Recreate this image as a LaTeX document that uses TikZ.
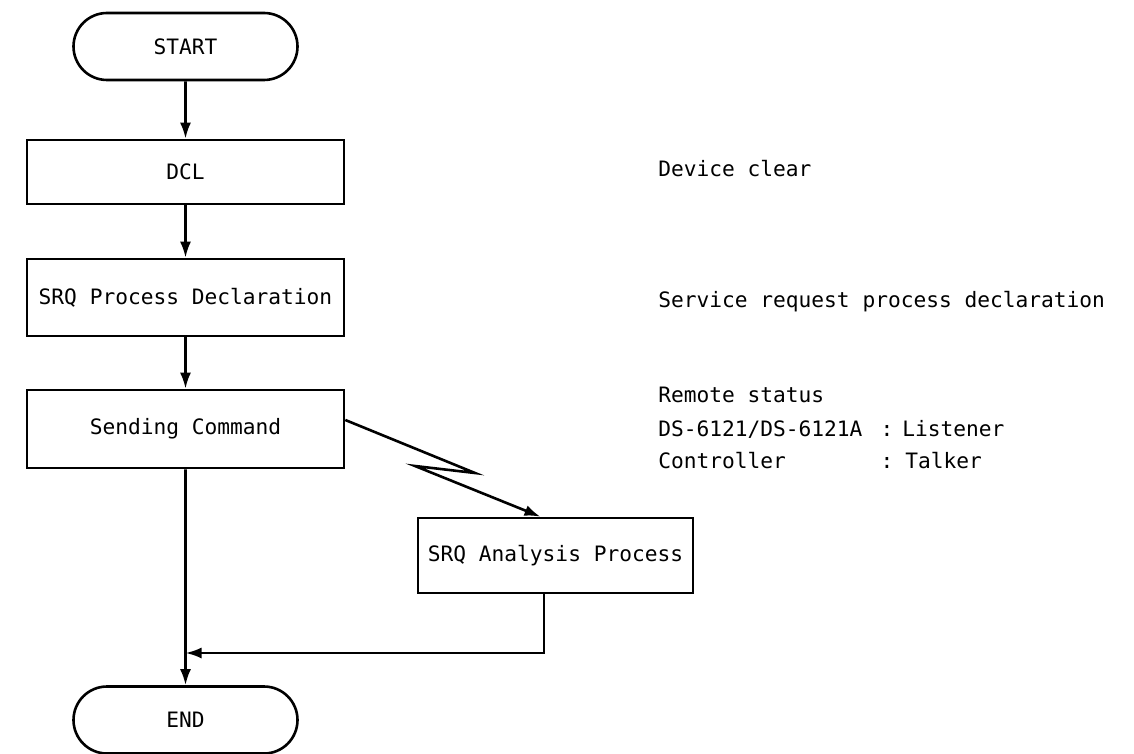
\documentclass[tikz,border=0pt]{standalone}
\usepackage{fontspec}
\setmonofont{DejaVu Sans Mono}
\usetikzlibrary{arrows.meta,shapes.misc}
\begin{document}
\begin{tikzpicture}[x=0.5pt,y=-0.5pt,
  font=\ttfamily\fontsize{10.6}{12}\selectfont,
  line width=1.3pt,
  box/.style={draw, rectangle, minimum width=158.5pt, inner sep=0pt},
  term/.style={draw, rounded rectangle, minimum width=112pt, minimum height=33.5pt, inner sep=0pt},
  arr/.style={-{Latex[length=8pt,width=5.5pt]}},
  note/.style={anchor=base west, inner sep=0pt},
  colon/.style={anchor=base, inner sep=0pt}]
\useasboundingbox (0,0) rectangle (1134,754);
% flow nodes
\node[term] (start) at (185.5,46.5) {START};
\node[box, minimum height=32pt] (dcl) at (185.5,172) {DCL};
\node[box, minimum height=38.5pt] (spd) at (185.5,297.5) {SRQ Process Declaration};
\node[box, minimum height=39pt] (sc) at (185.5,429) {Sending Command};
\node[box, minimum width=137.5pt, minimum height=37.5pt] (sap) at (555.5,555.5) {SRQ Analysis Process};
\node[term] (end) at (185.5,720) {END};
% connectors
\draw[arr] (start) -- (dcl);
\draw[arr] (dcl) -- (spd);
\draw[arr] (spd) -- (sc);
\draw[arr] (sc) -- (end);
\coordinate (z0) at ([yshift=4.5pt]sc.east);
\coordinate (z1) at (475,473);
\coordinate (z2) at (415,466);
\draw[arr] (z0) -- (z1) -- (z2) -- ([xshift=-7.5pt]sap.north);
\coordinate (r0) at ([xshift=-5.75pt]sap.south);
\coordinate (r1) at (r0 |- 0,653);
\draw[arr] (r0) -- (r1) -- (sc.south |- r1);
% notes
\node[note] (n1) at (657,177) {Device clear};
\node[note] (n2) at (657,307) {Service request process declaration};
\node[note] (n3) at (657,402) {Remote status};
\node[note] (n4) at (657,436) {DS-6121/DS-6121A};
\node[note] (n5) at (657,468) {Controller};
\node[colon] (c4) at (887,436) {:};
\node[colon] (c5) at (887,468) {:};
\node[note] (n6) at (901,436) {Listener};
\node[note] (n7) at (904,468) {Talker};
\end{tikzpicture}
\end{document}
